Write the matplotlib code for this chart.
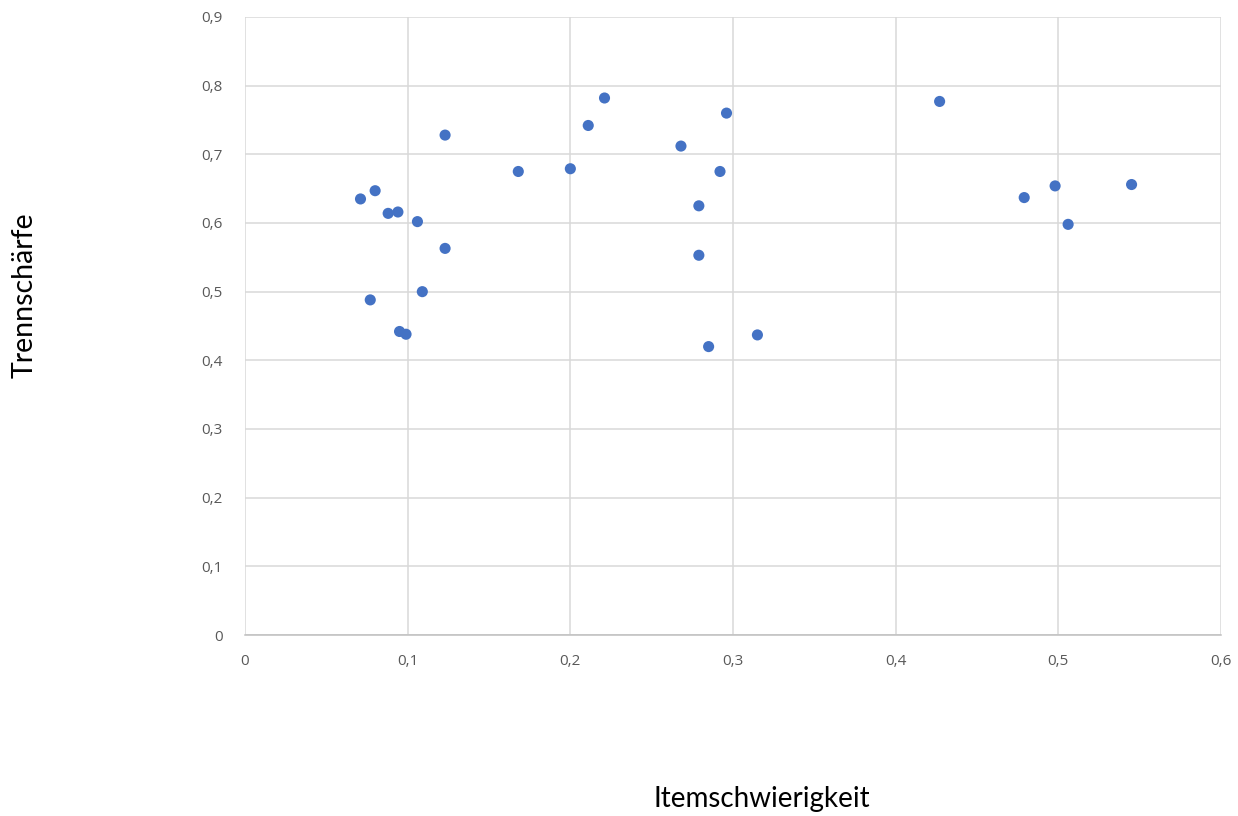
import matplotlib
matplotlib.use('Agg')
import matplotlib.pyplot as plt
from matplotlib.ticker import FuncFormatter

# Itemschwierigkeit (x) vs. Trennschärfe (y)
schwierigkeit = [0.071, 0.080, 0.088, 0.094, 0.106, 0.077, 0.095, 0.099, 0.109, 0.123,
                 0.123, 0.168, 0.200, 0.211, 0.221, 0.268, 0.296, 0.292, 0.279, 0.279,
                 0.285, 0.315, 0.427, 0.479, 0.498, 0.506, 0.545]
trennschaerfe = [0.635, 0.647, 0.614, 0.616, 0.602, 0.488, 0.442, 0.438, 0.500, 0.563,
                 0.728, 0.675, 0.679, 0.742, 0.782, 0.712, 0.760, 0.675, 0.625, 0.553,
                 0.420, 0.437, 0.777, 0.637, 0.654, 0.598, 0.656]

fig = plt.figure(figsize=(12.38, 8.16), dpi=100)
ax = fig.add_axes([0.1979, 0.2218, 0.7884, 0.7574])

ax.scatter(schwierigkeit, trennschaerfe, s=64, color='#4472C4', edgecolors='none', zorder=3)

ax.set_xlim(0, 0.6)
ax.set_ylim(0, 0.9)
ax.set_xticks([i / 10 for i in range(7)])
ax.set_yticks([i / 10 for i in range(10)])
fmt = FuncFormatter(lambda v, p: '0' if abs(v) < 1e-9 else f'{v:.1f}'.replace('.', ','))
ax.xaxis.set_major_formatter(fmt)
ax.yaxis.set_major_formatter(fmt)
ax.grid(True, color='#d9d9d9', linewidth=1.1, zorder=0)
ax.set_axisbelow(True)
for s in ['top', 'right', 'left']:
    ax.spines[s].set_visible(False)
ax.spines['bottom'].set_color('#bfbfbf')
ax.spines['bottom'].set_linewidth(1.1)
ax.tick_params(length=0, labelsize=11, labelcolor='#595959', pad=14)
ax.tick_params(axis='y', pad=16)
for lbl in ax.get_xticklabels() + ax.get_yticklabels():
    lbl.set_family('Open Sans')

fig.text(0.615, 0.021, 'Itemschwierigkeit', ha='center', va='center', fontsize=20,
         family='Lato', color='black')
fig.text(0.02, 0.638, 'Trennschärfe', ha='center', va='center', rotation=90, fontsize=20.5,
         family='Lato', color='black')

fig.savefig('out.png', dpi=100)
